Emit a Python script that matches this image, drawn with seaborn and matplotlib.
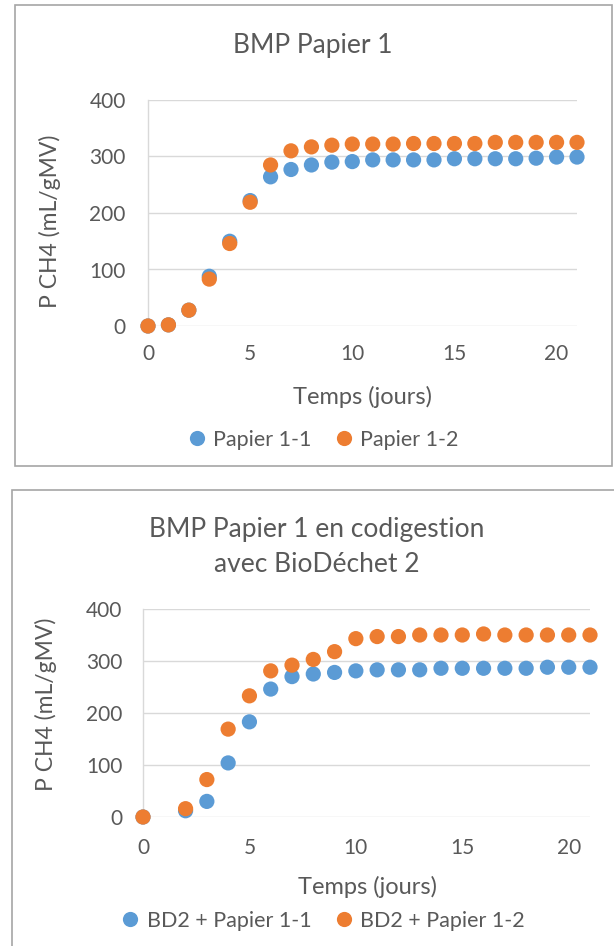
import numpy as np
import pandas as pd
import matplotlib
matplotlib.use("Agg")
import matplotlib.pyplot as plt
import seaborn as sns
from matplotlib.patches import Rectangle

# ---------------------------------------------------------------------------
# Data
# ---------------------------------------------------------------------------
days_1 = list(range(0, 22))
papier_1_1 = [0, 2, 28, 88, 150, 222, 264, 277, 285, 290, 291, 294,
              294, 294, 294, 296, 296, 296, 296, 297, 299, 299]
papier_1_2 = [0, 2, 28, 83, 146, 219, 285, 310, 317, 320, 322, 322,
              322, 323, 323, 323, 323, 325, 325, 325, 325, 325]

days_2 = [0] + list(range(2, 22))
bd2_papier_1_1 = [0, 12, 30, 104, 183, 246, 270, 275, 278, 281, 283, 283,
                  283, 286, 286, 286, 286, 286, 288, 288, 288]
bd2_papier_1_2 = [0, 16, 72, 169, 233, 281, 292, 303, 318, 343, 347, 347,
                  350, 350, 350, 352, 350, 350, 350, 350, 350]

x_ticks = [0, 5, 10, 15, 20]
y_ticks = [0, 100, 200, 300, 400]

BLUE = "#5B9BD5"
ORANGE = "#ED7D31"
GREY_TXT = "#595959"
GRID = "#D9D9D9"
W, H = 614, 946

sns.set_theme(style="white")
plt.rcParams["font.family"] = ["Lato", "DejaVu Sans"]


def long_df(days, a, b, name_a, name_b):
    # stack the two series into long form for seaborn hue
    return pd.concat([
        pd.DataFrame({"jour": days, "val": a, "serie": name_a}),
        pd.DataFrame({"jour": days, "val": b, "serie": name_b}),
    ], ignore_index=True)


def draw_panel(ax, df, names, ylab_xy, xlab_xy, xpad, ypad, leg_y):
    sns.scatterplot(data=df, x="jour", y="val", hue="serie",
                    hue_order=names, palette=[BLUE, ORANGE],
                    s=120, linewidth=0, alpha=1, ax=ax,
                    clip_on=False, zorder=3, legend=True)
    ax.set_xlim(0, 21)
    ax.set_ylim(0, 400)
    ax.set_xticks(x_ticks)
    ax.set_yticks(y_ticks)
    ax.tick_params(axis="both", length=0, labelsize=15, labelcolor=GREY_TXT)
    ax.tick_params(axis="x", pad=xpad)
    ax.tick_params(axis="y", pad=ypad)
    ax.yaxis.grid(True, color=GRID, linewidth=1)
    ax.xaxis.grid(False)
    for side in ["top", "right", "bottom"]:
        ax.spines[side].set_visible(False)
    ax.spines["left"].set_color(GRID)
    ax.spines["left"].set_linewidth(1)

    ax.set_xlabel("Temps (jours)", fontsize=17, color=GREY_TXT)
    ax.set_ylabel("P CH4 (mL/gMV)", fontsize=16.5, color=GREY_TXT)
    ax.yaxis.set_label_coords(*ylab_xy)
    ax.xaxis.set_label_coords(*xlab_xy)

    # legend below the plot, placed in figure pixels
    leg = ax.legend(loc="center", bbox_to_anchor=(322 / W, 1 - leg_y / H),
                    bbox_transform=ax.figure.transFigure, ncol=2,
                    frameon=False, fontsize=15.5, handlelength=1.0,
                    handletextpad=0.25, columnspacing=1.0, borderpad=0)
    for t in leg.get_texts():
        t.set_color(GREY_TXT)


fig = plt.figure(figsize=(W / 100, H / 100), dpi=100)

# chart frames
fig.patches.append(Rectangle((15 / W, 1 - 466.5 / H), 597 / W, 461 / H,
                             transform=fig.transFigure, fill=False,
                             edgecolor="#A6A6A6", linewidth=1.2))
fig.patches.append(Rectangle((12 / W, -0.01), 1.0, 1 - 489.7 / H + 0.01,
                             transform=fig.transFigure, fill=False,
                             edgecolor="#A6A6A6", linewidth=1.2))

# --- chart 1
ax1 = fig.add_axes([148 / W, 1 - 326 / H, 429 / W, 226 / H])
df1 = long_df(days_1, papier_1_1, papier_1_2, "Papier 1-1", "Papier 1-2")
draw_panel(ax1, df1, ["Papier 1-1", "Papier 1-2"],
           ylab_xy=(-0.203, 0.465), xlab_xy=(0.501, -0.265),
           xpad=13, ypad=16, leg_y=440)
fig.text(313 / W, 1 - 46 / H, "BMP Papier 1", ha="center", va="center",
         fontsize=19, color=GREY_TXT)

# --- chart 2
ax2 = fig.add_axes([143 / W, 1 - 817 / H, 447 / W, 208 / H])
df2 = long_df(days_2, bd2_papier_1_1, bd2_papier_1_2,
              "BD2 + Papier 1-1", "BD2 + Papier 1-2")
draw_panel(ax2, df2, ["BD2 + Papier 1-1", "BD2 + Papier 1-2"],
           ylab_xy=(-0.192, 0.543), xlab_xy=(0.503, -0.285),
           xpad=15, ypad=15, leg_y=921)
fig.text(317 / W, 1 - 529 / H, "BMP Papier 1 en codigestion", ha="center",
         va="center", fontsize=19, color=GREY_TXT)
fig.text(317 / W, 1 - 565 / H, "avec BioDéchet 2", ha="center",
         va="center", fontsize=19, color=GREY_TXT)

fig.savefig("out.png", dpi=100)
